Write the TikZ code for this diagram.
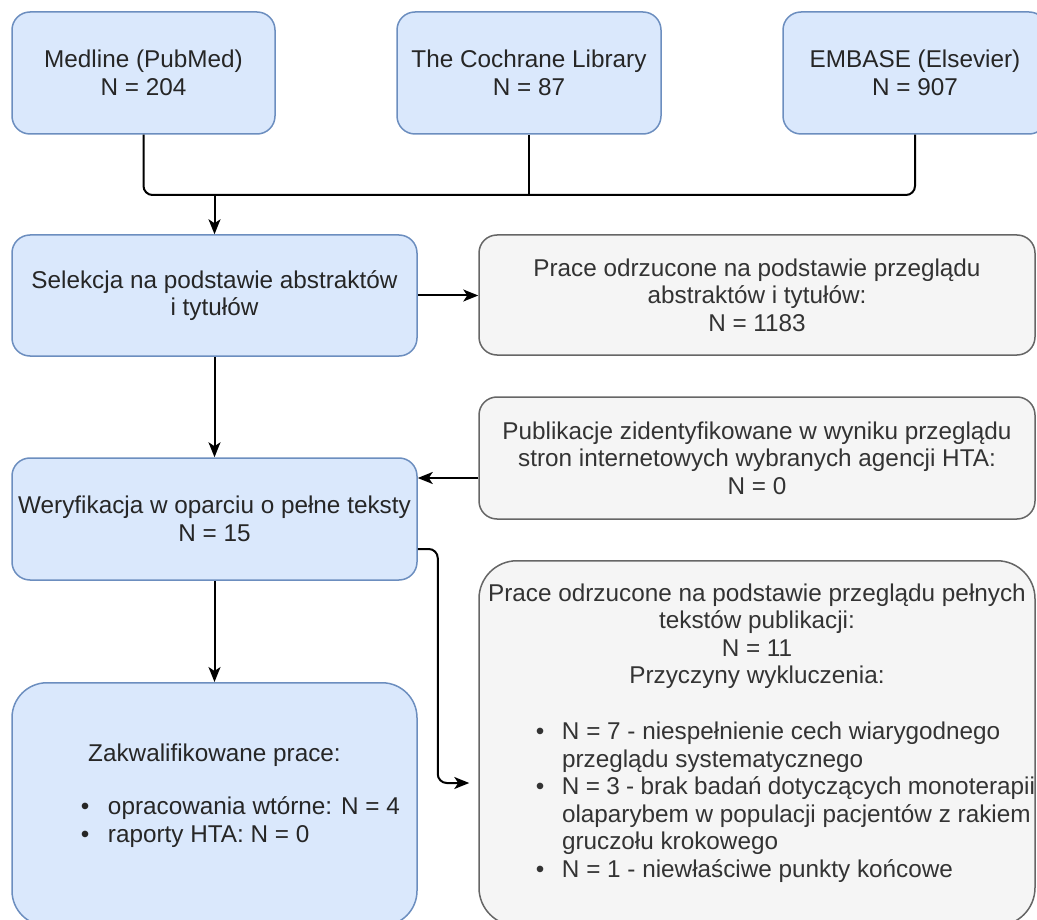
\documentclass[tikz,border=0pt]{standalone}
\usepackage{fontspec}
\setmainfont{Liberation Sans}
\usetikzlibrary{arrows.meta}
\definecolor{bfill}{HTML}{DAE8FC}
\definecolor{bdraw}{HTML}{6C8EBF}
\definecolor{gfill}{HTML}{F5F5F5}
\definecolor{gdraw}{HTML}{666666}
\definecolor{btxt}{HTML}{262626}
\definecolor{gtxt}{HTML}{333333}
\newcommand{\bul}{•}
\newcommand{\itm}[1]{\leavevmode\llap{\bul\hspace{#1}}}
\tikzset{
  box/.style={rounded corners=18pt, line width=1.5pt, align=center, inner sep=0pt,
    font=\fontsize{24.3}{27.5}\selectfont},
  bluebox/.style={box, fill=bfill, draw=bdraw, text=btxt},
  graybox/.style={box, fill=gfill, draw=gdraw, text=gtxt},
  conn/.style={line width=2pt, black, rounded corners=9pt},
  arr/.style={conn, -{Stealth[length=15pt,width=12pt,inset=4pt]}},
}
\begin{document}
\begin{tikzpicture}[x=1pt,y=-1pt]
\useasboundingbox (0,0) rectangle (1037,920);
\clip (0,0) rectangle (1037,920);
% sources
\node[bluebox, minimum width=263pt, minimum height=122pt] (med) at (143.5,73) {Medline (PubMed)\\N = 204};
\node[bluebox, minimum width=264pt, minimum height=122pt] (coch) at (529,73) {The Cochrane Library\\N = 87};
\node[bluebox, minimum width=264pt, minimum height=122pt] (emb) at (915,73) {EMBASE (Elsevier)\\N = 907};
% steps
\node[bluebox, minimum width=405pt, minimum height=121pt] (sel) at (214.5,295.5) {Selekcja na podstawie abstraktów\\i tytułów};
\node[graybox, minimum width=556pt, minimum height=120pt] (rej1) at (757,295) {Prace odrzucone na podstawie przeglądu\\abstraktów i tytułów:\\N = 1183};
\node[graybox, minimum width=556pt, minimum height=122pt] (pub) at (757,458) {Publikacje zidentyfikowane w wyniku przeglądu\\stron internetowych wybranych agencji HTA:\\N = 0};
\node[bluebox, minimum width=405pt, minimum height=122pt] (wer) at (214.5,519) {Weryfikacja w oparciu o pełne teksty\\N = 15};
\node[bluebox, rounded corners=35pt, anchor=north] (zak) at (214.5,682) {\parbox[c][243pt][t]{405pt}{\centering\vspace*{59.5pt}\strut Zakwalifikowane prace:\par
\vspace{25.5pt}\raggedright\leftskip=96pt
\itm{18.5pt}opracowania wtórne: N = 4\par
\itm{18.5pt}raporty HTA: N = 0\par}};
\node[graybox, rounded corners=38pt, anchor=north] (rej2) at (757,560) {\parbox[c][365pt][t]{556pt}{\centering\vspace*{21.3pt}\strut Prace odrzucone na podstawie przeglądu pełnych\\
tekstów publikacji:\\
N = 11\\
Przyczyny wykluczenia:\par
\vspace{28.5pt}\raggedright\leftskip=83pt
\itm{17.5pt}N = 7 - niespełnienie cech wiarygodnego\\przeglądu systematycznego\par
\itm{17.5pt}N = 3 - brak badań dotyczących monoterapii\\olaparybem w populacji pacjentów z rakiem\\gruczołu krokowego\par
\itm{17.5pt}N = 1 - niewłaściwe punkty końcowe\par}};
% connectors
\coordinate (j) at (sel.north |- 0,195);
\draw[conn] (med.south) -- (med.south |- j) -- (emb.south |- j) -- (emb.south);
\draw[conn] (coch.south) -- (coch.south |- j);
\draw[arr] (j) -- (sel.north);
\draw[arr] (sel.east) -- (sel.east -| rej1.west);
\draw[arr] (sel.south) -- (wer.north);
\draw[arr] (pub.west |- 0,478) -- (wer.east |- 0,478);
\draw[arr] (wer.south) -- (zak.north);
\draw[arr, shorten >=9pt] (wer.east |- 0,549) -- ++(20,0) |- (rej2.west |- 0,783);
\end{tikzpicture}
\end{document}
